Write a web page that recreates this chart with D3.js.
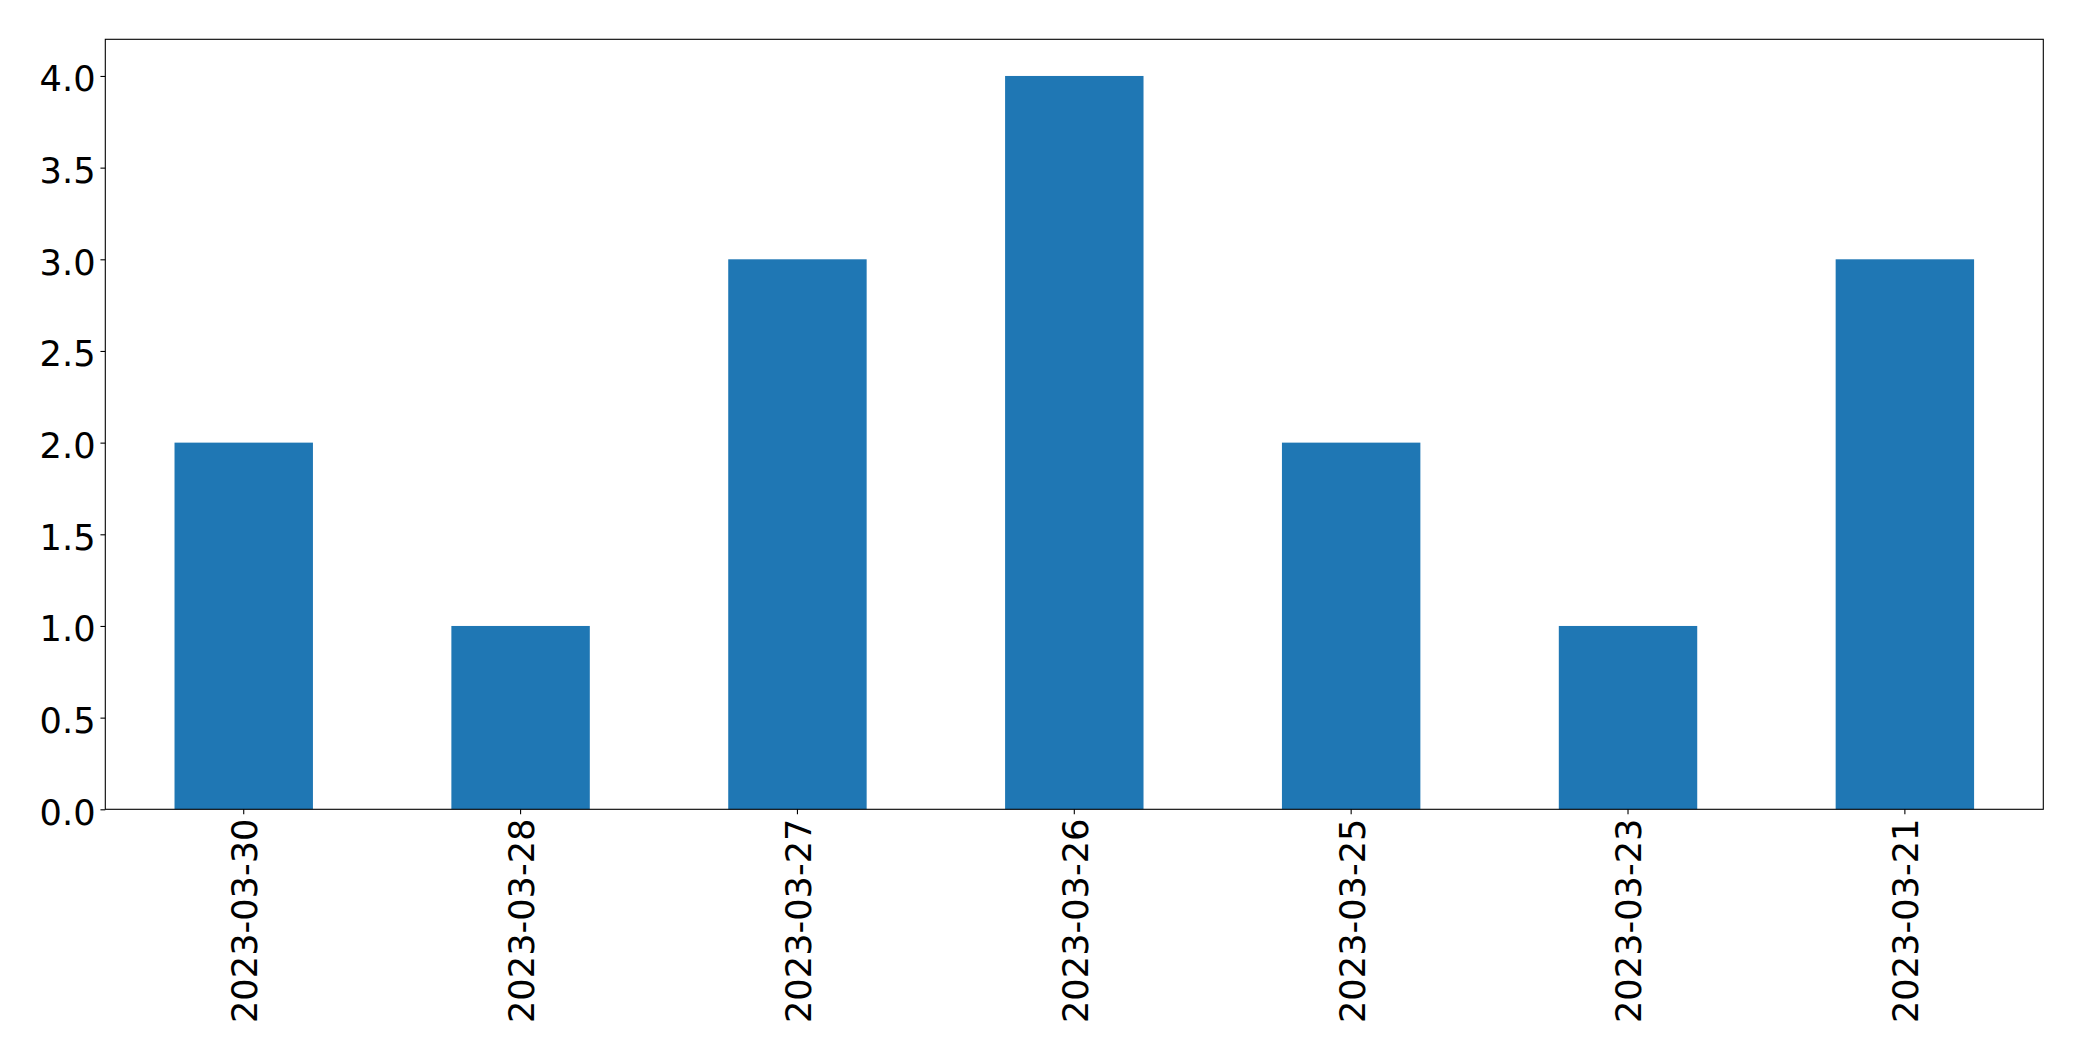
<!DOCTYPE html>
<html><head><meta charset="utf-8">
<script src="https://cdn.jsdelivr.net/npm/d3@7"></script>
<style>html,body{margin:0;padding:0;background:#fff;}</style>
</head><body>
<script>
const categories = ["2023-03-30","2023-03-28","2023-03-27","2023-03-26","2023-03-25","2023-03-23","2023-03-21"];
const values = [2,1,3,4,2,1,3];
const yTicks = [0,0.5,1,1.5,2,2.5,3,3.5,4];

(function(){
const W = 2082, H = 1061;
const mLeft = 105.3, mRight = 2043.3, mTop = 39.3, mBottom = 809.3;
const fs = 35.2;
const svg = d3.select("body").append("svg").attr("width", W).attr("height", H)
  .style("font-family", "'DejaVu Sans', sans-serif");

const x = d3.scaleBand().domain(categories).range([mLeft, mRight]).paddingInner(0.5).paddingOuter(0.25);
const y = d3.scaleLinear().domain([0, 4.2]).range([mBottom, mTop]);

svg.append("g").selectAll("rect").data(values).join("rect")
  .attr("x", (d,i) => x(categories[i]))
  .attr("width", x.bandwidth())
  .attr("y", d => y(d))
  .attr("height", d => y(0) - y(d))
  .attr("fill", "#1f77b4");

const tickLen = 4.86, pad = 4.86;
const yAxis = svg.append("g").attr("transform", `translate(${mLeft},0)`)
  .call(d3.axisLeft(y).tickValues(yTicks).tickFormat(d3.format(".1f")).tickSize(tickLen).tickPadding(pad));
yAxis.select(".domain").remove();
yAxis.selectAll("line").attr("stroke", "#000").attr("stroke-width", 1.1);
yAxis.selectAll("text").attr("font-size", fs).attr("font-family", "'DejaVu Sans', sans-serif")
  .attr("fill", "#000").attr("dy", "0.42em");

const xAxis = svg.append("g").attr("transform", `translate(0,${mBottom})`)
  .call(d3.axisBottom(x).tickSize(tickLen).tickPadding(pad));
xAxis.select(".domain").remove();
xAxis.selectAll("line").attr("stroke", "#000").attr("stroke-width", 1.1);
xAxis.selectAll("text").attr("font-size", fs).attr("font-family", "'DejaVu Sans', sans-serif")
  .attr("fill", "#000")
  .attr("text-anchor", "end")
  .attr("transform", `translate(0,${tickLen + pad - 0.5}) rotate(-90)`)
  .attr("x", 0).attr("y", 0).attr("dy", "0.38em");

svg.append("rect").attr("x", mLeft).attr("y", mTop).attr("width", mRight-mLeft).attr("height", mBottom-mTop)
  .attr("fill", "none").attr("stroke", "#000").attr("stroke-width", 1.1);
})();
</script>
</body></html>
